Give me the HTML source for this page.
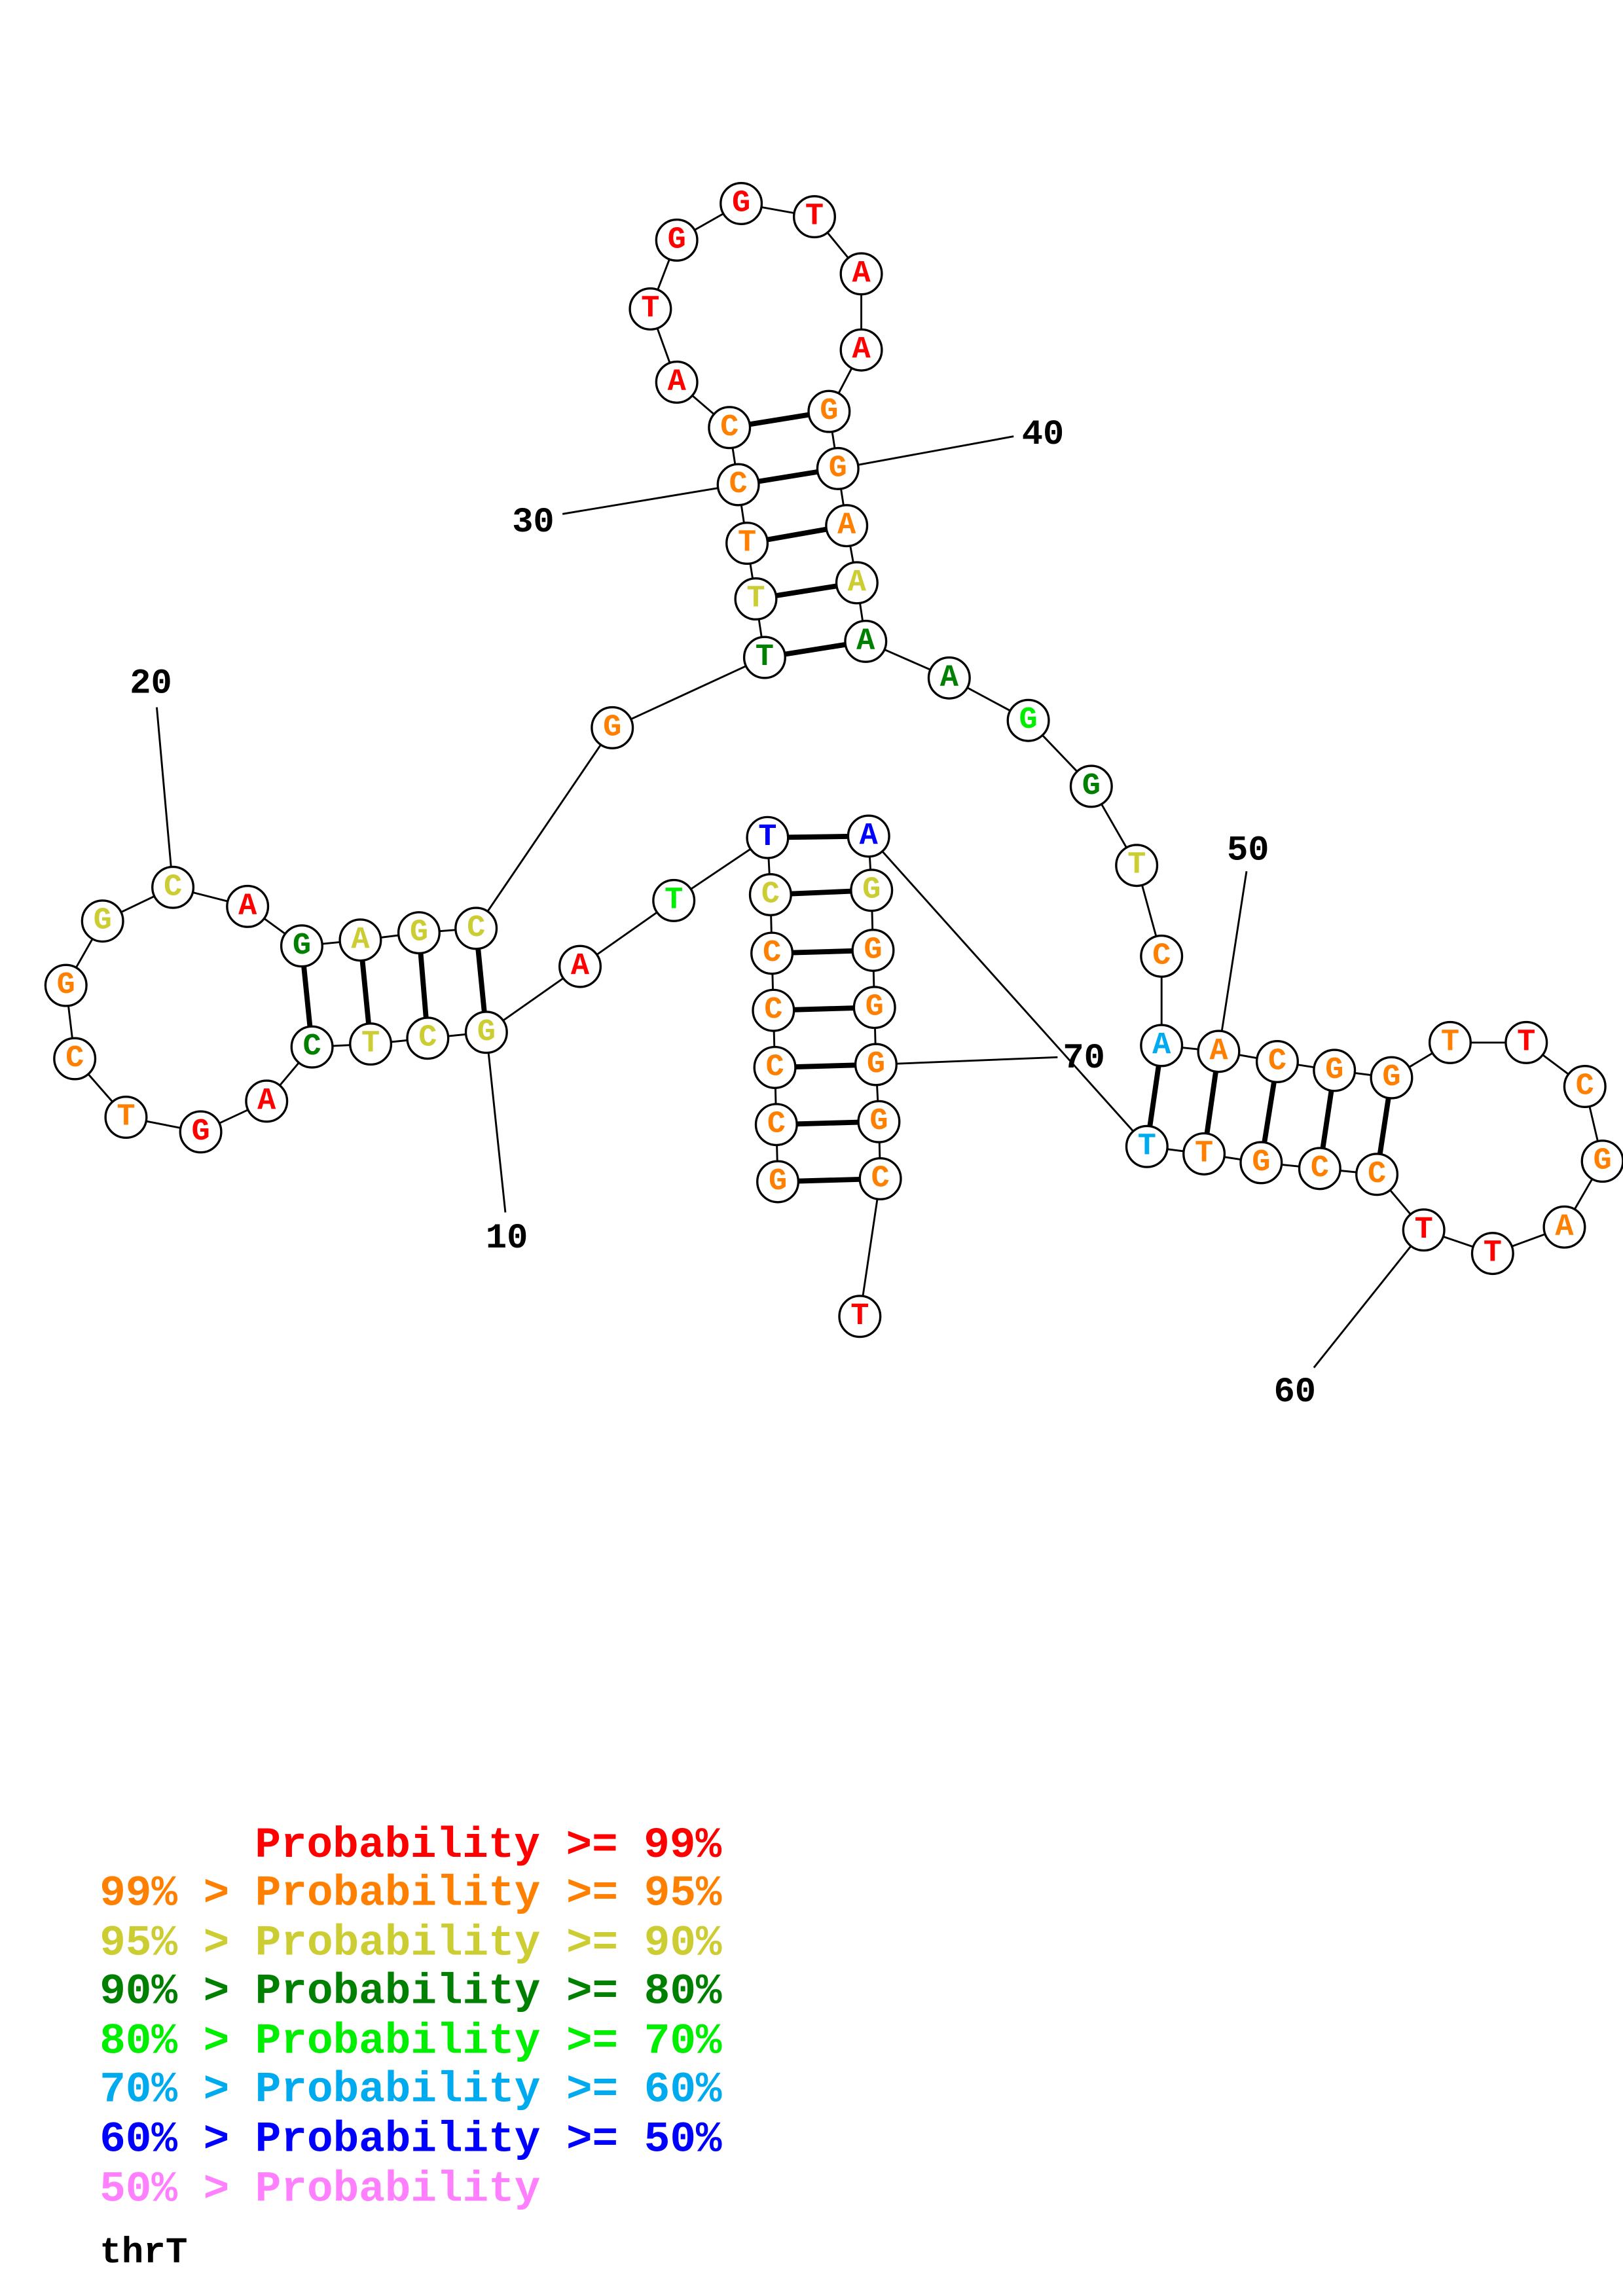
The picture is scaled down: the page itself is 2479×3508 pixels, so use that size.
<!DOCTYPE html>
<html><head><meta charset="utf-8"><style>
html,body{margin:0;padding:0;background:#fff}
svg{display:block}
.n circle{fill:#fff;stroke:#000;stroke-width:1.5}
.n text{font-family:"Liberation Mono",monospace;font-weight:bold;font-size:21px;text-anchor:middle;dominant-baseline:central}
.lbl{font-family:"Liberation Mono",monospace;font-weight:bold;font-size:24px;text-anchor:middle;dominant-baseline:central;fill:#000}
.lg{font-family:"Liberation Mono",monospace;font-weight:bold;font-size:29.5px}
.o{fill:#ff8000}.r{fill:#f00}.y{fill:#cccc33}.d{fill:#008000}.g{fill:#00ee00}.b{fill:#00aaee}.u{fill:#0000ff}.p{fill:#ff80ff}
</style></head><body>
<svg width="2479" height="3508" viewBox="0 0 1108 1568" xmlns="http://www.w3.org/2000/svg">
<polyline fill="none" stroke="#000" stroke-width="1.3" points="531,807 530,768 529,729 528,690 527,651 526,611 524,572 460,615 396,660 332,705 292,709 253,713 213,715 182,752 137,773 86,763 51,723 45,673 70,629 118,606 169,619 206,646 246,642 286,637 325,634 418,497 522,449 516,409 510,371 504,331 498,292 462,261 444,211 462,164 506,139 556,148 588,187 588,239 566,281 572,320 578,359 585,398 591,438 648,463 702,492 745,537 776,591 793,653 793,714 832,718 872,725 911,731 950,736 990,712 1042,712 1082,742 1094,793 1068,838 1019,856 972,840 940,802 901,798 861,794 822,788 783,783 593,571 595,608 596,649 597,688 598,727 600,766 601,805 587,899"/>
<g stroke="#000" stroke-width="3.5">
<line x1="531" y1="807" x2="601" y2="805"/><line x1="530" y1="768" x2="600" y2="766"/><line x1="529" y1="729" x2="598" y2="727"/><line x1="528" y1="690" x2="597" y2="688"/><line x1="527" y1="651" x2="596" y2="649"/><line x1="526" y1="611" x2="595" y2="608"/><line x1="524" y1="572" x2="593" y2="571"/>
<line x1="332" y1="705" x2="325" y2="634"/><line x1="292" y1="709" x2="286" y2="637"/><line x1="253" y1="713" x2="246" y2="642"/><line x1="213" y1="715" x2="206" y2="646"/>
<line x1="522" y1="449" x2="591" y2="438"/><line x1="516" y1="409" x2="585" y2="398"/><line x1="510" y1="371" x2="578" y2="359"/><line x1="504" y1="331" x2="572" y2="320"/><line x1="498" y1="292" x2="566" y2="281"/>
<line x1="793" y1="714" x2="783" y2="783"/><line x1="832" y1="718" x2="822" y2="788"/><line x1="872" y1="725" x2="861" y2="794"/><line x1="911" y1="731" x2="901" y2="798"/><line x1="950" y1="736" x2="940" y2="802"/>
</g>
<g stroke="#000" stroke-width="1.3">
<line x1="332" y1="705" x2="345" y2="828"/><line x1="118" y1="606" x2="107" y2="483"/><line x1="504" y1="331" x2="384" y2="351"/><line x1="572" y1="320" x2="692" y2="298"/><line x1="832" y1="718" x2="851" y2="595"/><line x1="972" y1="840" x2="897" y2="934"/><line x1="598" y1="727" x2="722" y2="722"/>
</g>
<text class="lbl" x="346" y="846">10</text><text class="lbl" x="103" y="467">20</text><text class="lbl" x="364" y="357">30</text><text class="lbl" x="712" y="297">40</text><text class="lbl" x="852" y="581">50</text><text class="lbl" x="884" y="951">60</text><text class="lbl" x="740" y="723">70</text>
<g class="n">
<circle cx="531" cy="807" r="14"/><text x="531" y="807" class="o">G</text>
<circle cx="530" cy="768" r="14"/><text x="530" y="768" class="o">C</text>
<circle cx="529" cy="729" r="14"/><text x="529" y="729" class="o">C</text>
<circle cx="528" cy="690" r="14"/><text x="528" y="690" class="o">C</text>
<circle cx="527" cy="651" r="14"/><text x="527" y="651" class="o">C</text>
<circle cx="526" cy="611" r="14"/><text x="526" y="611" class="y">C</text>
<circle cx="524" cy="572" r="14"/><text x="524" y="572" class="u">T</text>
<circle cx="460" cy="615" r="14"/><text x="460" y="615" class="g">T</text>
<circle cx="396" cy="660" r="14"/><text x="396" y="660" class="r">A</text>
<circle cx="332" cy="705" r="14"/><text x="332" y="705" class="y">G</text>
<circle cx="292" cy="709" r="14"/><text x="292" y="709" class="y">C</text>
<circle cx="253" cy="713" r="14"/><text x="253" y="713" class="y">T</text>
<circle cx="213" cy="715" r="14"/><text x="213" y="715" class="d">C</text>
<circle cx="182" cy="752" r="14"/><text x="182" y="752" class="r">A</text>
<circle cx="137" cy="773" r="14"/><text x="137" y="773" class="r">G</text>
<circle cx="86" cy="763" r="14"/><text x="86" y="763" class="o">T</text>
<circle cx="51" cy="723" r="14"/><text x="51" y="723" class="o">C</text>
<circle cx="45" cy="673" r="14"/><text x="45" y="673" class="o">G</text>
<circle cx="70" cy="629" r="14"/><text x="70" y="629" class="y">G</text>
<circle cx="118" cy="606" r="14"/><text x="118" y="606" class="y">C</text>
<circle cx="169" cy="619" r="14"/><text x="169" y="619" class="r">A</text>
<circle cx="206" cy="646" r="14"/><text x="206" y="646" class="d">G</text>
<circle cx="246" cy="642" r="14"/><text x="246" y="642" class="y">A</text>
<circle cx="286" cy="637" r="14"/><text x="286" y="637" class="y">G</text>
<circle cx="325" cy="634" r="14"/><text x="325" y="634" class="y">C</text>
<circle cx="418" cy="497" r="14"/><text x="418" y="497" class="o">G</text>
<circle cx="522" cy="449" r="14"/><text x="522" y="449" class="d">T</text>
<circle cx="516" cy="409" r="14"/><text x="516" y="409" class="y">T</text>
<circle cx="510" cy="371" r="14"/><text x="510" y="371" class="o">T</text>
<circle cx="504" cy="331" r="14"/><text x="504" y="331" class="o">C</text>
<circle cx="498" cy="292" r="14"/><text x="498" y="292" class="o">C</text>
<circle cx="462" cy="261" r="14"/><text x="462" y="261" class="r">A</text>
<circle cx="444" cy="211" r="14"/><text x="444" y="211" class="r">T</text>
<circle cx="462" cy="164" r="14"/><text x="462" y="164" class="r">G</text>
<circle cx="506" cy="139" r="14"/><text x="506" y="139" class="r">G</text>
<circle cx="556" cy="148" r="14"/><text x="556" y="148" class="r">T</text>
<circle cx="588" cy="187" r="14"/><text x="588" y="187" class="r">A</text>
<circle cx="588" cy="239" r="14"/><text x="588" y="239" class="r">A</text>
<circle cx="566" cy="281" r="14"/><text x="566" y="281" class="o">G</text>
<circle cx="572" cy="320" r="14"/><text x="572" y="320" class="o">G</text>
<circle cx="578" cy="359" r="14"/><text x="578" y="359" class="o">A</text>
<circle cx="585" cy="398" r="14"/><text x="585" y="398" class="y">A</text>
<circle cx="591" cy="438" r="14"/><text x="591" y="438" class="d">A</text>
<circle cx="648" cy="463" r="14"/><text x="648" y="463" class="d">A</text>
<circle cx="702" cy="492" r="14"/><text x="702" y="492" class="g">G</text>
<circle cx="745" cy="537" r="14"/><text x="745" y="537" class="d">G</text>
<circle cx="776" cy="591" r="14"/><text x="776" y="591" class="y">T</text>
<circle cx="793" cy="653" r="14"/><text x="793" y="653" class="o">C</text>
<circle cx="793" cy="714" r="14"/><text x="793" y="714" class="b">A</text>
<circle cx="832" cy="718" r="14"/><text x="832" y="718" class="o">A</text>
<circle cx="872" cy="725" r="14"/><text x="872" y="725" class="o">C</text>
<circle cx="911" cy="731" r="14"/><text x="911" y="731" class="o">G</text>
<circle cx="950" cy="736" r="14"/><text x="950" y="736" class="o">G</text>
<circle cx="990" cy="712" r="14"/><text x="990" y="712" class="o">T</text>
<circle cx="1042" cy="712" r="14"/><text x="1042" y="712" class="r">T</text>
<circle cx="1082" cy="742" r="14"/><text x="1082" y="742" class="o">C</text>
<circle cx="1094" cy="793" r="14"/><text x="1094" y="793" class="o">G</text>
<circle cx="1068" cy="838" r="14"/><text x="1068" y="838" class="o">A</text>
<circle cx="1019" cy="856" r="14"/><text x="1019" y="856" class="r">T</text>
<circle cx="972" cy="840" r="14"/><text x="972" y="840" class="r">T</text>
<circle cx="940" cy="802" r="14"/><text x="940" y="802" class="o">C</text>
<circle cx="901" cy="798" r="14"/><text x="901" y="798" class="o">C</text>
<circle cx="861" cy="794" r="14"/><text x="861" y="794" class="o">G</text>
<circle cx="822" cy="788" r="14"/><text x="822" y="788" class="o">T</text>
<circle cx="783" cy="783" r="14"/><text x="783" y="783" class="b">T</text>
<circle cx="593" cy="571" r="14"/><text x="593" y="571" class="u">A</text>
<circle cx="595" cy="608" r="14"/><text x="595" y="608" class="y">G</text>
<circle cx="596" cy="649" r="14"/><text x="596" y="649" class="o">G</text>
<circle cx="597" cy="688" r="14"/><text x="597" y="688" class="o">G</text>
<circle cx="598" cy="727" r="14"/><text x="598" y="727" class="o">G</text>
<circle cx="600" cy="766" r="14"/><text x="600" y="766" class="o">G</text>
<circle cx="601" cy="805" r="14"/><text x="601" y="805" class="o">C</text>
<circle cx="587" cy="899" r="14"/><text x="587" y="899" class="r">T</text>
</g>
<g class="lg">
<text x="174" y="1268" class="r">Probability &gt;= 99%</text>
<text x="68" y="1301" class="o">99% &gt; Probability &gt;= 95%</text>
<text x="68" y="1335" class="y">95% &gt; Probability &gt;= 90%</text>
<text x="68" y="1368" class="d">90% &gt; Probability &gt;= 80%</text>
<text x="68" y="1402" class="g">80% &gt; Probability &gt;= 70%</text>
<text x="68" y="1435" class="b">70% &gt; Probability &gt;= 60%</text>
<text x="68" y="1469" class="u">60% &gt; Probability &gt;= 50%</text>
<text x="68" y="1503" class="p">50% &gt; Probability</text>
<text x="68" y="1545" fill="#000" style="font-size:25px">thrT</text>
</g>
</svg>
</body></html>
